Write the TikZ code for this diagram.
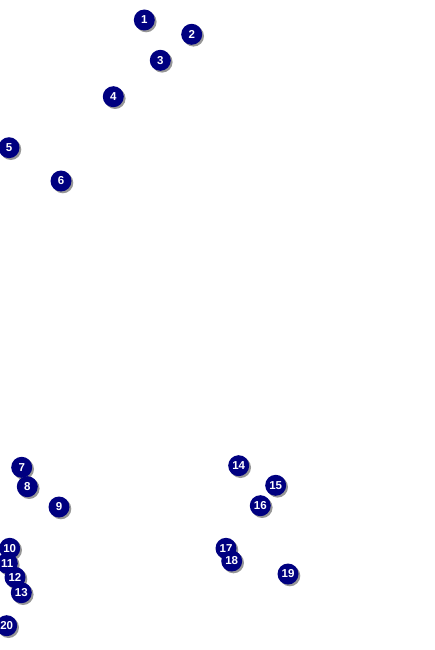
\documentclass[tikz,border=0pt]{standalone}
\usepackage{fontspec}
\setmainfont{Liberation Sans}
\usetikzlibrary{shadows}
\definecolor{marknavy}{RGB}{0,0,128}
\definecolor{markshadow}{RGB}{140,140,140}
\tikzset{
  marker/.style={circle, fill=marknavy, minimum size=21pt, inner sep=0pt,
    text=white, font=\fontsize{11.5}{12}\selectfont\bfseries,
    drop shadow={shadow xshift=1.8pt, shadow yshift=-1.8pt, fill=markshadow, opacity=0.9}}
}
\begin{document}
\begin{tikzpicture}[x=1pt,y=-1pt]
\useasboundingbox (0,0) rectangle (435,650);
\begin{scope}
\clip (0,0) rectangle (435,650);
\node[marker] (m1) at (144.3,20) {1};
\node[marker] (m2) at (191.7,34.3) {2};
\node[marker] (m3) at (160.3,60.3) {3};
\node[marker] (m4) at (113.3,96.7) {4};
\node[marker] (m5) at (9,147.7) {5};
\node[marker] (m6) at (61,181) {6};
\node[marker] (m7) at (21.7,467.3) {7};
\node[marker] (m8) at (27.3,486.7) {8};
\node[marker] (m9) at (59,507) {9};
\node[marker] (m10) at (9.7,548.3) {10};
\node[marker] (m11) at (7.3,563.3) {11};
\node[marker] (m12) at (15,577.3) {12};
\node[marker] (m13) at (21.3,592.7) {13};
\node[marker] (m14) at (238.7,465.7) {14};
\node[marker] (m15) at (275.7,485.3) {15};
\node[marker] (m16) at (260.3,505.7) {16};
\node[marker] (m17) at (226,548.3) {17};
\node[marker] (m18) at (231.7,561) {18};
\node[marker] (m19) at (288,574) {19};
\node[marker] (m20) at (6.7,625.7) {20};
\end{scope}
\end{tikzpicture}
\end{document}
